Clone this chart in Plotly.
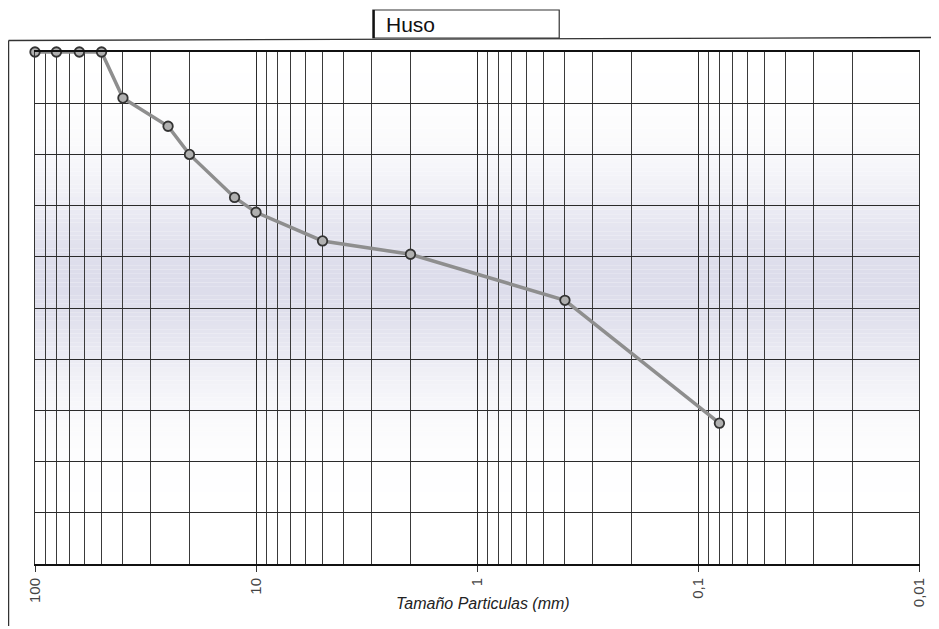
import math
import plotly.graph_objects as go

# ---- data ----
sizes_mm = [100, 80, 63, 50, 40, 25, 20, 12.5, 10, 5, 2, 0.4, 0.08]
passing_pct = [100, 100, 100, 100, 91, 85.5, 80, 71.6, 68.7, 63.1, 60.5, 51.5, 27.5]
tick_vals = [100, 10, 1, 0.1, 0.01]
tick_text = ["100", "10", "1", "0,1", "0,01"]
title_text = "Huso"
x_title = "Tamaño Particulas (mm)"

OFF = 8  # page body margin of the html page
W, H = 939 - OFF, 629 - OFF
L, R, T, B = 35 - OFF, 17, 52 - OFF, 65
pw, ph = W - L - R, H - T - B


def px(x):
    # x in page pixels -> paper coordinate
    return (x - OFF - L) / pw


def py(y):
    return (H - B - (y - OFF)) / ph


fig = go.Figure()
fig.add_trace(go.Scatter(
    x=sizes_mm, y=passing_pct, mode="lines+markers",
    line=dict(color="#8e8e8e", width=3.5),
    marker=dict(size=9.5, color="#b0b0b0", line=dict(color="#333333", width=1.8)),
    cliponaxis=False, showlegend=False, hoverinfo="skip",
))

shapes = []
# soft lavender band in the background (style only)
n = 120
for i in range(n):
    y0 = i / n
    y1 = (i + 1) / n
    yc = (y0 + y1) / 2
    a = math.exp(-((yc - 0.55) / 0.2) ** 2)
    r = int(round(255 - a * 34))
    g = int(round(255 - a * 34))
    b = int(round(255 - a * 20))
    shapes.append(dict(type="rect", xref="paper", yref="paper", x0=0, x1=1, y0=y0, y1=y1,
                       fillcolor=f"rgb({r},{g},{b})", line=dict(width=0), layer="below"))

# outer frame lines
shapes.append(dict(type="line", xref="paper", yref="paper", x0=px(8.5), x1=px(935),
                   y0=py(40.5), y1=py(37.5), line=dict(color="#333", width=1.3)))
shapes.append(dict(type="line", xref="paper", yref="paper", x0=px(8.5), x1=px(8.5),
                   y0=py(40.5), y1=py(626), line=dict(color="#333", width=1.3)))
# title box
shapes.append(dict(type="rect", xref="paper", yref="paper", x0=px(374), x1=px(561),
                   y0=py(38), y1=py(10), line=dict(color="#333", width=1.2), fillcolor="white"))
shapes.append(dict(type="line", xref="paper", yref="paper", x0=px(375), x1=px(375),
                   y0=py(38), y1=py(10), line=dict(color="#111", width=2)))

fig.update_layout(
    width=W, height=H,
    margin=dict(l=L, r=R, t=T, b=B),
    paper_bgcolor="white", plot_bgcolor="white",
    font=dict(family="Liberation Sans, Arial, sans-serif", color="#333"),
    shapes=shapes,
    annotations=[
        dict(text=title_text, xref="paper", yref="paper", x=px(385), y=py(24),
             xanchor="left", yanchor="middle", showarrow=False,
             font=dict(size=21, color="#111")),
        dict(text=x_title, xref="paper", yref="paper", x=px(485), y=py(603),
             xanchor="center", yanchor="middle", showarrow=False,
             font=dict(size=16, color="#222", style="italic")),
    ],
    xaxis=dict(
        type="log", range=[2, -2],
        tickvals=tick_vals, ticktext=tick_text, tickangle=-90,
        tickfont=dict(size=15, color="#444"),
        ticks="outside", ticklen=6, tickcolor="#333",
        showgrid=True, gridcolor="#2a2a2a", gridwidth=1,
        minor=dict(dtick="D1", showgrid=True, gridcolor="#3a3a3a", gridwidth=1, ticks=""),
        showline=True, linecolor="#111", linewidth=2, mirror=True,
        zeroline=False,
    ),
    yaxis=dict(
        range=[0, 100], dtick=10, showticklabels=False,
        showgrid=True, gridcolor="#2a2a2a", gridwidth=1,
        showline=True, linecolor="#333", linewidth=1, mirror=True,
        zeroline=False, ticks="",
    ),
)

fig.write_html("out.html")
